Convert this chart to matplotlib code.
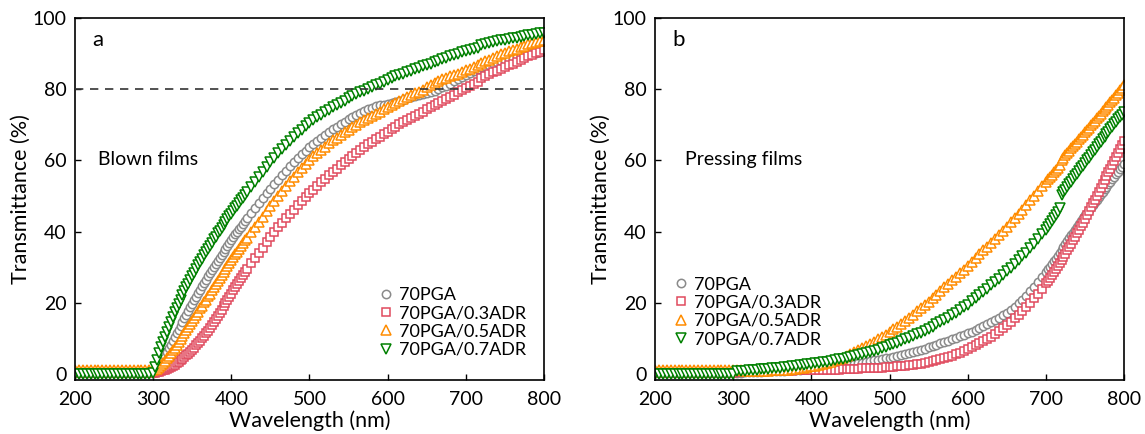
import numpy as np
import matplotlib
matplotlib.use("Agg")
import matplotlib.pyplot as plt

plt.rcParams['font.family'] = ['Lato', 'DejaVu Sans']
plt.rcParams['font.size'] = 14

# wavelength grids (nm): finer steps where the curves climb fastest
wl_a = np.concatenate([np.arange(200, 300.1, 5), np.arange(302.5, 420.1, 2.5), np.arange(425, 800.1, 5)])
wl_b = np.concatenate([np.arange(200, 700.1, 5), np.arange(702.5, 800.1, 2.5)])

labels = ["70PGA", "70PGA/0.3ADR", "70PGA/0.5ADR", "70PGA/0.7ADR"]
colors = ["#8a8a8a", "#e04a5e", "#ff8c00", "#008000"]
markers = ["o", "s", "^", "v"]
msizes = [6.0, 5.6, 6.6, 6.6]

# (a) blown films
pga_a = [0.3]*20 + [0.4,
    0.8, 1.5, 2.2, 3.0, 4.0, 5.0, 6.1, 7.2, 8.2, 9.3, 10.3, 11.4, 12.4, 13.5, 14.5, 15.6, 16.6, 17.7, 18.7, 19.7,
    20.7, 21.7, 22.7, 23.7, 24.6, 25.6, 26.5, 27.4, 28.3, 29.2, 30.1, 31.0, 31.8, 32.7, 33.5, 34.4, 35.2, 36.0, 36.8, 37.6,
    38.4, 39.2, 39.9, 40.7, 41.4, 42.2, 42.9, 43.7,
    45.1, 46.5, 47.9, 49.3, 50.7, 52.0, 53.3, 54.6, 55.9, 57.1, 58.3, 59.5, 60.6, 61.7, 62.7, 63.7,
    64.6, 65.5, 66.4, 67.2, 68.0, 68.8, 69.5, 70.2, 70.9, 71.6, 72.2, 72.8, 73.4, 73.9, 74.4, 74.8, 75.2, 75.5, 75.7, 75.9,
    76.2, 76.5, 76.8, 77.1, 77.4, 77.7, 78.0, 78.3, 78.6, 78.9, 79.2, 79.6, 80.0, 80.5, 81.0, 81.6, 82.2, 82.8, 83.4, 84.0,
    84.6, 85.2, 85.7, 86.1, 86.5, 86.9, 87.3, 87.7, 88.0, 88.3, 88.6, 88.9, 89.2, 89.5, 89.7, 89.9, 90.1, 90.3, 90.5, 90.7]
adr3_a = [0.3]*20 + [0.3,
    0.4, 0.5, 0.65, 0.8, 1.0, 1.2, 1.45, 1.7, 2.0, 2.3, 2.65, 3.0, 3.4, 3.8, 4.25, 4.7, 5.2, 5.7, 6.25, 6.8,
    7.4, 8.0, 8.65, 9.3, 10.0, 10.7, 11.45, 12.2, 13.0, 13.8, 14.65, 15.5, 16.35, 17.2, 18.1, 19.0, 19.9, 20.8, 21.7, 22.6,
    23.5, 24.4, 25.3, 26.2, 27.05, 27.9, 28.75, 29.6,
    31.2, 32.7, 34.1, 35.5, 37.0, 38.4, 39.8, 41.2, 42.5, 43.8, 45.0, 46.2, 47.4, 48.5, 49.6, 50.7,
    51.8, 52.8, 53.8, 54.8, 55.8, 56.8, 57.7, 58.6, 59.5, 60.4, 61.3, 62.1, 62.9, 63.7, 64.5, 65.3, 66.0, 66.7, 67.4, 68.1,
    68.8, 69.5, 70.1, 70.7, 71.3, 71.9, 72.5, 73.1, 73.7, 74.3, 74.9, 75.5, 76.1, 76.7, 77.3, 77.9, 78.5, 79.1, 79.7, 80.3,
    80.9, 81.5, 82.1, 83.2, 83.7, 84.2, 84.7, 85.2, 85.7, 86.2, 86.7, 87.2, 87.7, 88.2, 88.7, 89.2, 89.7, 90.1, 90.5, 90.9]
adr5_a = [1.2]*20 + [1.2,
    1.3, 1.5, 1.9, 2.4, 3.0, 3.7, 4.4, 5.1, 5.8, 6.6, 7.4, 8.2, 9.0, 9.9, 10.7, 11.6, 12.4, 13.3, 14.1, 15.0,
    15.8, 16.7, 17.5, 18.4, 19.2, 20.1, 20.9, 21.8, 22.6, 23.5, 24.3, 25.2, 26.0, 26.9, 27.7, 28.6, 29.4, 30.3, 31.1, 32.0,
    32.8, 33.6, 34.4, 35.2, 36.0, 36.8, 37.5, 38.3,
    39.8, 41.3, 42.7, 44.1, 45.7, 47.2, 48.6, 50.0, 51.4, 52.8, 54.1, 55.4, 56.7, 57.9, 59.0, 60.1,
    61.1, 62.1, 63.0, 63.9, 64.8, 65.6, 66.4, 67.2, 67.9, 68.6, 69.3, 70.0, 70.7, 71.3, 71.9, 72.5, 73.1, 73.7, 74.3, 74.9,
    75.5, 76.1, 76.7, 77.3, 77.8, 78.3, 78.8, 79.3, 79.9, 80.5, 81.2, 81.8, 82.4, 82.8, 83.2, 83.6, 84.0, 84.4, 84.8, 85.3,
    85.8, 86.3, 86.8, 87.3, 87.8, 88.3, 88.8, 89.3, 89.8, 90.2, 90.6, 91.0, 91.4, 91.8, 92.2, 92.6, 92.9, 93.2, 93.5, 93.8]
adr7_a = [0.0]*20 + [0.3,
    2.0, 4.0, 5.8, 7.5, 9.0, 10.5, 11.9, 13.3, 14.7, 16.0, 17.3, 18.5, 19.7, 20.9, 22.1, 23.2, 24.3, 25.4, 26.5, 27.5,
    28.5, 29.5, 30.5, 31.5, 32.4, 33.3, 34.2, 35.1, 36.0, 36.9, 37.8, 38.6, 39.5, 40.3, 41.1, 41.9, 42.7, 43.5, 44.3, 45.0,
    45.8, 46.5, 47.3, 48.0, 48.8, 49.5, 50.3, 51.0,
    52.5, 54.0, 55.4, 56.8, 58.2, 59.5, 60.8, 62.0, 63.2, 64.4, 65.5, 66.6, 67.6, 68.6, 69.6, 70.5,
    71.3, 72.1, 72.8, 73.5, 74.2, 74.9, 75.6, 76.2, 76.8, 77.4, 78.0, 78.6, 79.1, 79.6, 80.1, 80.6, 81.1, 81.6, 82.1, 82.6,
    83.1, 83.6, 84.0, 84.4, 84.8, 85.2, 85.6, 86.0, 86.4, 86.8, 87.2, 87.6, 88.0, 88.4, 88.8, 89.2, 89.6, 90.0, 90.4, 90.8,
    91.1, 91.4, 91.7, 92.5, 92.8, 93.1, 93.3, 93.5, 93.7, 93.9, 94.1, 94.3, 94.5, 94.7, 94.9, 95.1, 95.3, 95.5, 95.7, 95.9]

# (b) pressing films
pga_b = [0.3]*20 + [0.3,
    0.35, 0.4, 0.45, 0.5, 0.55, 0.6, 0.65, 0.7, 0.75, 0.8, 0.85, 0.9, 0.95, 1.0, 1.05, 1.1, 1.2, 1.3, 1.4, 1.5,
    1.6, 1.7, 1.8, 1.9, 2.0, 2.1, 2.25, 2.4, 2.55, 2.7, 2.85, 3.0, 3.2, 3.4, 3.6, 3.8, 4.0, 4.2, 4.4, 4.6,
    4.85, 5.1, 5.35, 5.6, 5.9, 6.2, 6.5, 6.8, 7.15, 7.5, 7.85, 8.2, 8.6, 9.0, 9.4, 9.8, 10.2, 10.6, 11.0, 11.4,
    11.9, 12.4, 12.9, 13.4, 13.95, 14.5, 15.15, 15.8, 16.5, 17.2, 18.0, 18.9, 19.9, 20.9, 22.0, 23.2, 24.5, 25.8, 27.2, 28.6,
    29.35, 30.1, 30.85, 31.6, 32.4, 33.2, 34.0, 34.8, 35.6, 36.4, 37.25, 38.1, 38.9, 39.7, 40.55, 41.4, 42.2, 43.0, 43.8, 44.6,
    45.35, 46.1, 46.85, 47.6, 48.3, 49.0, 49.75, 50.5, 51.2, 51.9, 52.6, 53.3, 54.0, 54.7, 55.4, 56.1, 56.8, 57.5, 58.2, 58.9]
adr3_b = [0.4]*20 + [0.4,
    0.45, 0.5, 0.55, 0.6, 0.65, 0.7, 0.75, 0.8, 0.8, 0.8, 0.85, 0.9, 0.9, 0.9, 0.95, 1.0, 1.0, 1.0, 1.05, 1.1,
    1.1, 1.1, 1.15, 1.2, 1.2, 1.2, 1.25, 1.3, 1.35, 1.4, 1.45, 1.5, 1.55, 1.6, 1.65, 1.7, 1.75, 1.8, 1.85, 1.9,
    2.0, 2.1, 2.2, 2.3, 2.45, 2.6, 2.75, 2.9, 3.1, 3.3, 3.55, 3.8, 4.1, 4.4, 4.75, 5.1, 5.5, 5.9, 6.4, 6.9,
    7.45, 8.0, 8.6, 9.2, 9.85, 10.5, 11.25, 12.0, 12.85, 13.7, 14.65, 15.6, 16.65, 17.7, 18.85, 20.0, 21.3, 22.6, 24.0, 25.5,
    26.25, 27.0, 27.8, 28.6, 29.45, 30.3, 31.15, 32.0, 32.9, 33.8, 34.7, 35.6, 36.55, 37.5, 38.5, 39.5, 40.5, 41.5, 42.55, 43.6,
    44.65, 45.7, 46.8, 47.9, 48.95, 50.0, 51.1, 52.2, 53.3, 54.4, 55.5, 56.6, 57.7, 58.8, 59.9, 61.0, 62.1, 63.2, 64.35, 65.5]
adr5_b = [1.2]*20 + [1.2,
    1.1, 1.0, 0.95, 0.9, 0.9, 0.9, 0.9, 0.9, 0.95, 1.0, 1.05, 1.1, 1.15, 1.2, 1.3, 1.4, 1.55, 1.7, 1.9, 2.1,
    2.3, 2.5, 2.8, 3.1, 3.4, 3.8, 4.2, 4.6, 5.1, 5.6, 6.1, 6.7, 7.3, 7.9, 8.5, 9.1, 9.7, 10.3, 11.0, 11.7,
    12.5, 13.3, 14.1, 14.9, 15.8, 16.7, 17.6, 18.5, 19.4, 20.3, 21.3, 22.3, 23.3, 24.3, 25.3, 26.3, 27.3, 28.3, 29.3, 30.3,
    31.4, 32.5, 33.6, 34.7, 35.8, 36.9, 38.0, 39.1, 40.2, 41.4, 42.6, 43.8, 45.0, 46.2, 47.5, 48.8, 50.1, 51.4, 52.7, 54.0,
    54.65, 55.3, 55.95, 56.6, 57.25, 57.9, 58.6, 60.2, 60.8, 61.4, 62.05, 62.7, 63.35, 64.0, 64.65, 65.3, 65.95, 66.6, 67.25, 67.9,
    68.55, 69.2, 69.85, 70.5, 71.15, 71.8, 72.45, 73.1, 73.75, 74.4, 75.05, 75.7, 76.35, 77.0, 77.65, 78.3, 79.0, 79.7, 80.4, 81.1]
adr7_b = [0.0]*20 + [0.0,
    0.7, 0.8, 0.9, 1.0, 1.1, 1.2, 1.3, 1.4, 1.5, 1.6, 1.7, 1.8, 1.9, 2.0, 2.15, 2.3, 2.45, 2.6, 2.75, 2.9,
    3.05, 3.2, 3.35, 3.5, 3.7, 3.9, 4.1, 4.3, 4.55, 4.8, 5.05, 5.3, 5.6, 5.9, 6.2, 6.5, 6.85, 7.2, 7.6, 8.0,
    8.4, 8.8, 9.25, 9.7, 10.15, 10.6, 11.1, 11.6, 12.1, 12.7, 13.3, 13.9, 14.5, 15.1, 15.8, 16.5, 17.2, 17.9, 18.7, 19.5,
    20.4, 21.3, 22.2, 23.1, 24.0, 24.9, 25.8, 26.8, 27.8, 28.8, 29.8, 30.8, 31.9, 33.0, 34.1, 35.3, 36.6, 37.9, 39.2, 40.5,
    41.35, 42.2, 43.05, 43.9, 44.75, 45.6, 46.5, 50.3, 51.05, 51.8, 52.55, 53.3, 54.05, 54.8, 55.55, 56.3, 57.05, 57.8, 58.55, 59.3,
    60.05, 60.8, 61.55, 62.3, 63.05, 63.8, 64.55, 65.3, 66.0, 66.7, 67.4, 68.1, 68.8, 69.5, 70.2, 70.9, 71.55, 72.2, 72.85, 73.5]

panels = [
    ("a", "Blown films", wl_a, [pga_a, adr3_a, adr5_a, adr7_a], 0.049),
    ("b", "Pressing films", wl_b, [pga_b, adr3_b, adr5_b, adr7_b], 0.064),
]

fig = plt.figure(figsize=(11.45, 4.34), dpi=100)
ax_a = fig.add_axes([0.0655, 0.1244, 0.4096, 0.8341])
ax_b = fig.add_axes([0.5721, 0.1244, 0.4096, 0.8341])
legend_pos = [(0.3328, 0.3376), (0.5904, 0.3629)]

for ax, (tag, note, wl, series, nx), lpos in zip([ax_a, ax_b], panels, legend_pos):
    for y, lab, c, m, ms in zip(series, labels, colors, markers, msizes):
        ax.plot(wl, y, ls="none", marker=m, ms=ms, mfc="white", mec=c, mew=1.1, label=lab)
    ax.set_xlim(200, 800)
    ax.set_ylim(-1.7, 100)
    ax.set_xticks(np.arange(200, 801, 100))
    ax.set_yticks(np.arange(0, 101, 20))
    ax.tick_params(direction="in", length=4, width=1, labelsize=14, pad=6)
    ax.tick_params(axis="x", pad=8)
    for sp in ax.spines.values():
        sp.set_linewidth(1.2)
    ax.set_xlabel("Wavelength (nm)", fontsize=15.5, labelpad=2)
    ax.set_ylabel("Transmittance (%)", fontsize=15.5, labelpad=1.5)
    ax.text(0.036, 0.94, tag, transform=ax.transAxes, fontsize=16, va="center", ha="left")
    ax.text(nx, 0.608, note, transform=ax.transAxes, fontsize=14, va="center", ha="left")
    ax.legend(loc="upper left", bbox_to_anchor=lpos, bbox_transform=fig.transFigure,
              frameon=False, borderpad=0, handlelength=0.6, handletextpad=0.4,
              labelspacing=0.12, fontsize=13, borderaxespad=0)

ax_a.axhline(80, color="#333333", lw=1.2, ls=(0, (5, 4)), zorder=5)

fig.savefig("out.png", dpi=100)
